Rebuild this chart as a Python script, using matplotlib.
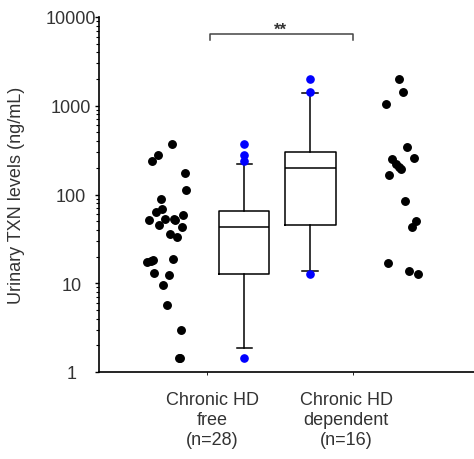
import numpy as np
import matplotlib
matplotlib.use("Agg")
import matplotlib.pyplot as plt
from matplotlib.ticker import FixedLocator, NullFormatter

plt.rcParams['font.family'] = ['Liberation Sans', 'DejaVu Sans']

# urinary TXN (ng/mL)
free_vals = [367, 279, 239, 176, 111, 88, 68, 63, 52, 53.5, 52, 58, 45, 42.7,
             36.3, 33.5, 17.5, 18.4, 18.9, 13.2, 12.5, 9.6, 5.7, 2.98, 1.43,
             1.45, 18.0, 52.5]
free_jitter = [4.7, -9.3, -15, 18, 19, -6.3, -4.7, -11, -17.7, -2, 8, 16.3, -7.7, 14.7,
               3, 9.7, -19.7, -14.3, 6.3, -12.7, 2, -3.7, -0.3, 14, 12,
               12.5, -16, 7]
dep_vals = [1992, 1446, 1040, 346, 257, 249, 218, 195, 165, 84, 49.9, 42.7,
            16.9, 13.9, 12.7, 206]
dep_jitter = [-3, 0.7, -16.3, 5.3, 12, -10.3, -6, -1.3, -12.7, 3, 13.7, 9.7,
              -13.7, 7.3, 16.3, -3.5]

# box summaries as drawn in the figure
box_stats = [
    dict(whislo=1.85, q1=12.7, med=43.5, q3=64.8, whishi=222, fliers=[367, 279, 239, 1.43]),
    dict(whislo=13.6, q1=45.5, med=200, q3=300, whishi=1410, fliers=[1992, 1446, 12.7]),
]
group_labels = ["Chronic HD\nfree\n(n=28)", "Chronic HD\ndependent\n(n=16)"]
yticks = [1, 10, 100, 1000, 10000]
ytick_labels = ["1", "10", "100", "1000", "10000"]

fig = plt.figure(figsize=(4.74, 4.6), dpi=100)
ax = fig.add_axes([99 / 474, 1 - 373 / 460, 375 / 474, 355 / 460])
ax.set_yscale('log')
ax.set_ylim(1, 10000)
ax.set_xlim(0, 375)

# x centres (axis units = pixels)
x_free_dots, x_free_box, x_dep_box, x_dep_dots = 68, 145, 211, 303

ax.plot(x_free_dots + np.array(free_jitter), free_vals, 'o', color='black',
        markersize=5.4, linestyle='none')
ax.plot(x_dep_dots + np.array(dep_jitter), dep_vals, 'o', color='black',
        markersize=5.4, linestyle='none')

line = dict(color='black', linewidth=1.1)
ax.bxp(box_stats, positions=[x_free_box, x_dep_box], widths=[50, 51],
       capwidths=[15, 16], boxprops=line, medianprops=line,
       whiskerprops=line, capprops=line,
       flierprops=dict(marker='o', markerfacecolor='blue', markeredgecolor='blue',
                       markersize=5.2, linestyle='none'),
       manage_ticks=False)

# significance bracket
bx0, bx1 = 111, 254
ax.plot([bx0, bx0, bx1, bx1], [5500, 6430, 6430, 5500], color='#444444',
        linewidth=1.1, clip_on=False)
ax.text((bx0 + bx1) / 2 - 1, 7300, "**", ha='center', va='center',
        fontsize=12, fontweight='bold', color='#333333')

# axes styling
for s in ['top', 'right']:
    ax.spines[s].set_visible(False)
ax.spines['left'].set_linewidth(1.2)
ax.spines['bottom'].set_linewidth(1.2)

ax.yaxis.set_major_locator(FixedLocator(yticks))
ax.set_yticklabels(ytick_labels)
ax.yaxis.set_minor_formatter(NullFormatter())
ax.tick_params(axis='y', which='major', direction='out', length=3, width=1,
               pad=17, labelsize=13, labelcolor='#333333')
ax.tick_params(axis='y', which='minor', direction='out', length=2, width=0.8)
for lbl in ax.get_yticklabels():
    lbl.set_ha('center')

ax.set_xticks([113, 247])
ax.set_xticklabels(group_labels)
ax.set_xticks([108, 254], minor=True)
ax.tick_params(axis='x', which='major', length=0, pad=14, labelsize=13,
               labelcolor='#333333')
ax.tick_params(axis='x', which='minor', length=2, direction='out')

ax.set_ylabel("Urinary TXN levels (ng/mL)", fontsize=13, color='#333333')
ax.yaxis.set_label_coords(-0.197, 0.5)

fig.savefig("out.png", dpi=100)
